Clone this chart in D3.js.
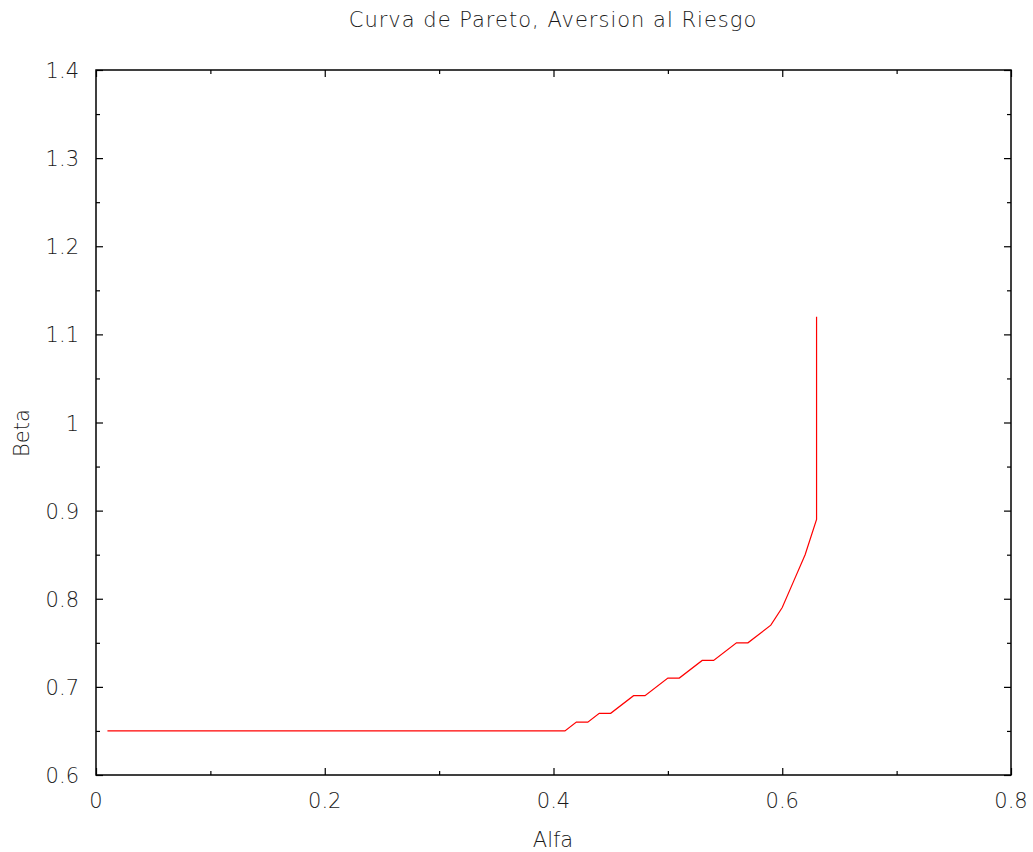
<!DOCTYPE html>
<html lang="es">
<head>
<meta charset="UTF-8">
<title>Curva de Pareto</title>
<script src="https://cdn.jsdelivr.net/npm/d3@7"></script>
<style>
  body { margin: 0; background: #fff; }
  text { font-family: "DejaVu Sans", sans-serif; font-weight: 200; fill: #1a1a1a; }
</style>
</head>
<body>
<div id="box"></div>
<script>
// puntos de la curva (alfa, beta)
var alfa = [0.01, 0.41, 0.42, 0.43, 0.44, 0.45, 0.47, 0.48, 0.50, 0.51, 0.53, 0.54, 0.56, 0.57, 0.59, 0.60, 0.61, 0.62, 0.63, 0.63];
var beta = [0.65, 0.65, 0.66, 0.66, 0.67, 0.67, 0.69, 0.69, 0.71, 0.71, 0.73, 0.73, 0.75, 0.75, 0.77, 0.79, 0.82, 0.85, 0.89, 1.12];

var xTicks = [0, 0.2, 0.4, 0.6, 0.8];
var xMinor = [0.1, 0.3, 0.5, 0.7];
var yTicks = [0.6, 0.7, 0.8, 0.9, 1, 1.1, 1.2, 1.3, 1.4];
var yMinor = [0.65, 0.75, 0.85, 0.95, 1.05, 1.15, 1.25, 1.35];

var width = 1033, height = 852;
var mLeft = 96, mRight = 1011, mTop = 70, mBottom = 775;

var x = d3.scaleLinear().domain([0, 0.8]).range([mLeft, mRight]);
var y = d3.scaleLinear().domain([0.6, 1.4]).range([mBottom, mTop]);

var svg = d3.select("#box").append("svg")
    .attr("width", width)
    .attr("height", height);

// ejes: marcas hacia dentro en los cuatro lados
function tickAxis(axis, pos) {
    var g = svg.append("g").attr("transform", pos).call(axis);
    g.select(".domain").remove();
    g.selectAll("line").attr("stroke", "#000").attr("stroke-width", 1.2);
    g.selectAll("text").remove();
    return g;
}

tickAxis(d3.axisBottom(x).tickValues(xTicks).tickSize(-7), "translate(0," + mBottom + ")");
tickAxis(d3.axisBottom(x).tickValues(xMinor).tickSize(-4), "translate(0," + mBottom + ")");
tickAxis(d3.axisTop(x).tickValues(xTicks).tickSize(-7), "translate(0," + mTop + ")");
tickAxis(d3.axisTop(x).tickValues(xMinor).tickSize(-4), "translate(0," + mTop + ")");
tickAxis(d3.axisLeft(y).tickValues(yTicks).tickSize(-7), "translate(" + mLeft + ",0)");
tickAxis(d3.axisLeft(y).tickValues(yMinor).tickSize(-4), "translate(" + mLeft + ",0)");
tickAxis(d3.axisRight(y).tickValues(yTicks).tickSize(-7), "translate(" + mRight + ",0)");
tickAxis(d3.axisRight(y).tickValues(yMinor).tickSize(-4), "translate(" + mRight + ",0)");

// marco
svg.append("rect")
    .attr("x", mLeft).attr("y", mTop)
    .attr("width", mRight - mLeft).attr("height", mBottom - mTop)
    .attr("fill", "none").attr("stroke", "#000").attr("stroke-width", 1.5);

// etiquetas
svg.selectAll(".xl").data(xTicks).enter().append("text")
    .attr("x", d => x(d)).attr("y", mBottom + 33)
    .attr("text-anchor", "middle").attr("font-size", 21)
    .text(d => d3.format("")(d));

svg.selectAll(".yl").data(yTicks).enter().append("text")
    .attr("x", mLeft - 17).attr("y", d => y(d) + 8)
    .attr("text-anchor", "end").attr("font-size", 21)
    .text(d => d3.format("")(d));

svg.append("text").attr("x", 553).attr("y", 27)
    .attr("text-anchor", "middle").attr("font-size", 21)
    .attr("letter-spacing", 1)
    .text("Curva de Pareto, Aversion al Riesgo");

svg.append("text").attr("x", 553).attr("y", 847)
    .attr("text-anchor", "middle").attr("font-size", 21)
    .text("Alfa");

svg.append("text")
    .attr("transform", "translate(29,433) rotate(-90)")
    .attr("text-anchor", "middle").attr("font-size", 21)
    .text("Beta");

// curva
var line = d3.line().x((d, i) => x(alfa[i])).y((d, i) => y(beta[i]));
svg.append("path")
    .datum(alfa)
    .attr("d", line)
    .attr("fill", "none")
    .attr("stroke", "#ff0000")
    .attr("stroke-width", 1.2);
</script>
</body>
</html>
